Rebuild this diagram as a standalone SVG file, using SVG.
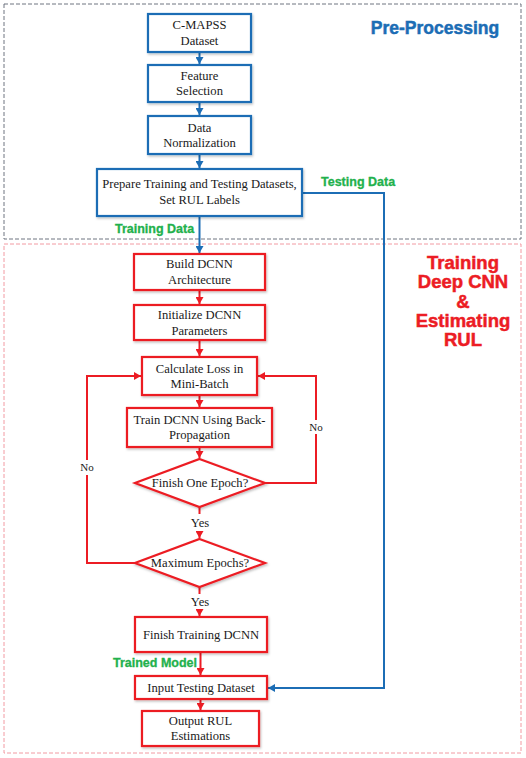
<svg xmlns="http://www.w3.org/2000/svg" width="526" height="758" viewBox="0 0 526 758">
<style>
.bg{fill:#ffffff}
.zone1{fill:none;stroke:#6e7480;stroke-width:1;stroke-dasharray:4 2}
.zone2{fill:none;stroke:#f29aa2;stroke-width:1;stroke-dasharray:4 2}
.bbox{fill:#ffffff;stroke:#1c6db5;stroke-width:2.2;filter:url(#sh)}
.rbox{fill:#ffffff;stroke:#ec1c24;stroke-width:2.2;filter:url(#sh)}
.t{font-family:"Liberation Serif","Times New Roman",serif;font-size:12.6px;fill:#1a1a1a;text-anchor:middle}
.s{font-family:"Liberation Serif","Times New Roman",serif;font-size:11px;fill:#1a1a1a;text-anchor:middle}
.g{font-family:"Liberation Sans",Arial,sans-serif;font-weight:bold;font-size:12.5px;fill:#22b14c;stroke:#22b14c;stroke-width:0.3}
.bl{stroke:#1c6db5;stroke-width:2;fill:none}
.rl{stroke:#ec1c24;stroke-width:2;fill:none}
.h1{font-family:"Liberation Sans",Arial,sans-serif;font-weight:bold;font-size:17.5px;fill:#1c6db5;stroke:#1c6db5;stroke-width:0.5;text-anchor:middle}
.h2{font-family:"Liberation Sans",Arial,sans-serif;font-weight:bold;font-size:18.5px;fill:#ec1c24;stroke:#ec1c24;stroke-width:0.5;text-anchor:middle}
</style>
<defs>
<filter id="sh" x="-10%" y="-10%" width="120%" height="130%">
<feDropShadow dx="1" dy="1.5" stdDeviation="1" flood-color="#000" flood-opacity="0.25"/>
</filter>
<marker id="ab" markerUnits="userSpaceOnUse" markerWidth="8" markerHeight="8" refX="7" refY="4" orient="auto">
<path d="M0,0 L7,4 L0,8 z" fill="#1c6db5"/>
</marker>
<marker id="ar" markerUnits="userSpaceOnUse" markerWidth="8" markerHeight="8" refX="7" refY="4" orient="auto">
<path d="M0,0 L7,4 L0,8 z" fill="#ec1c24"/>
</marker>
</defs>
<rect class="bg" x="0" y="0" width="526" height="758"/>
<rect class="zone1" x="4" y="4" width="517" height="235"/>
<rect class="zone2" x="4" y="244" width="517" height="509"/>
<text class="h1" x="435" y="34">Pre-Processing</text>
<g class="h2">
<text x="463" y="269">Training</text>
<text x="463" y="288">Deep CNN</text>
<text x="463" y="308">&amp;</text>
<text x="463" y="327">Estimating</text>
<text x="463" y="346">RUL</text>
</g>

<g id="connectors">
<path class="bl" d="M199.5,52 V64" marker-end="url(#ab)"/>
<path class="bl" d="M199.5,102 V115" marker-end="url(#ab)"/>
<path class="bl" d="M199.5,154 V168" marker-end="url(#ab)"/>
<path class="bl" d="M199.5,216 V253" marker-end="url(#ab)"/>
<path class="bl" d="M302,193 H384 V688 H268" marker-end="url(#ab)"/>
<path class="rl" d="M199.5,290 V304" marker-end="url(#ar)"/>
<path class="rl" d="M199.5,340 V356" marker-end="url(#ar)"/>
<path class="rl" d="M199.5,395 V407" marker-end="url(#ar)"/>
<path class="rl" d="M199.5,447 V458" marker-end="url(#ar)"/>
<path class="rl" d="M199.5,507 V514"/>
<path class="rl" d="M199.5,531 V538" marker-end="url(#ar)"/>
<path class="rl" d="M199.5,587 V594"/>
<path class="rl" d="M199.5,610 V616" marker-end="url(#ar)"/>
<path class="rl" d="M200.5,652 V675" marker-end="url(#ar)"/>
<path class="rl" d="M200.5,699 V710" marker-end="url(#ar)"/>
<path class="rl" d="M265,483 H316 V434"/>
<path class="rl" d="M316,420 V376 H258" marker-end="url(#ar)"/>
<path class="rl" d="M135,563 H87 V475"/>
<path class="rl" d="M87,460 V376 H141" marker-end="url(#ar)"/>
<text class="g" x="321" y="186">Testing Data</text>
<text class="g" x="115" y="233">Training Data</text>
<text class="g" x="113" y="667">Trained Model</text>
<text class="s" x="316" y="431">No</text>
<text class="s" x="87" y="471">No</text>
<text class="t" x="200" y="527">Yes</text>
<text class="t" x="200" y="606">Yes</text>
</g>

<g id="n1"><rect class="bbox" x="148" y="14" width="103" height="38"/>
<text class="t" x="199.5" y="29">C-MAPSS</text><text class="t" x="199.5" y="45">Dataset</text></g>
<g id="n2"><rect class="bbox" x="148" y="65" width="103" height="37"/>
<text class="t" x="199.5" y="80">Feature</text><text class="t" x="199.5" y="95">Selection</text></g>
<g id="n3"><rect class="bbox" x="148" y="116" width="103" height="38"/>
<text class="t" x="199.5" y="132">Data</text><text class="t" x="199.5" y="147">Normalization</text></g>
<g id="n4"><rect class="bbox" x="97" y="169" width="205" height="47"/>
<text class="t" x="199.5" y="188">Prepare Training and Testing Datasets,</text><text class="t" x="199.5" y="204">Set RUL Labels</text></g>
<g id="n5"><rect class="rbox" x="134" y="254" width="131" height="36"/>
<text class="t" x="199.5" y="268">Build DCNN</text><text class="t" x="199.5" y="284">Architecture</text></g>
<g id="n6"><rect class="rbox" x="134" y="305" width="131" height="35"/>
<text class="t" x="199.5" y="319">Initialize DCNN</text><text class="t" x="199.5" y="335">Parameters</text></g>
<g id="n7"><rect class="rbox" x="142" y="357" width="115" height="38"/>
<text class="t" x="199.5" y="373">Calculate Loss in</text><text class="t" x="199.5" y="388">Mini-Batch</text></g>
<g id="n8"><rect class="rbox" x="127" y="408" width="145" height="39"/>
<text class="t" x="199.5" y="424">Train DCNN Using Back-</text><text class="t" x="199.5" y="439">Propagation</text></g>
<g id="n9"><polygon class="rbox" points="199.5,459 265,483 199.5,507 135,483"/>
<text class="t" x="200" y="487">Finish One Epoch?</text></g>
<g id="n10"><polygon class="rbox" points="199.5,539 265,563 199.5,587 135,563"/>
<text class="t" x="200" y="567">Maximum Epochs?</text></g>
<g id="n11"><rect class="rbox" x="135" y="617" width="132" height="35"/>
<text class="t" x="201" y="639">Finish Training DCNN</text></g>
<g id="n12"><rect class="rbox" x="135" y="676" width="132" height="23"/>
<text class="t" x="201" y="692">Input Testing Dataset</text></g>
<g id="n13"><rect class="rbox" x="142" y="711" width="117" height="35"/>
<text class="t" x="200.5" y="725">Output RUL</text><text class="t" x="200.5" y="740">Estimations</text></g>
</svg>
